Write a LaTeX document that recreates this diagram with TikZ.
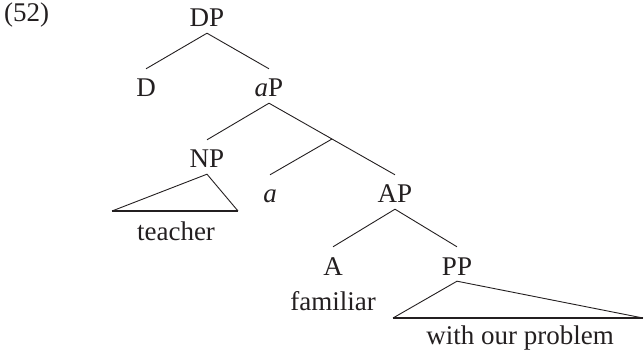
\documentclass[tikz,border=0pt]{standalone}
\usepackage{fontspec}
\setmainfont{Liberation Serif}
\definecolor{ink}{HTML}{231F20}
\begin{document}
\begin{tikzpicture}[x=1pt,y=-1pt,
  txt/.style={font=\fontsize{27}{31}\selectfont, text=ink},
  lab/.style={txt, inner sep=0pt, text height=28pt, text depth=6pt, anchor=base},
  term/.style={txt, inner sep=0pt, anchor=base},
  branch/.style={draw=ink, line width=0.9pt},
  trisides/.style={draw=ink, line width=0.9pt, line join=miter},
  tribase/.style={draw=ink, line width=1.8pt}]
\useasboundingbox (0,0) rectangle (644,355);
% labels
\node[term, anchor=base west] (ex) at (4,22) {(52)};
\node[lab] (DP) at (207,27) {DP};
\node[lab] (D) at (146,97) {D};
\node[lab] (aP) at (269,97) {\textit{a}P};
\coordinate (abar) at (332,139);
\node[lab] (NP) at (207,168) {NP};
\node[lab] (a) at (270,203) {\textit{a}};
\node[lab] (AP) at (395,203) {AP};
\node[lab] (A) at (333,275) {A};
\node[lab] (PP) at (457,275) {PP};
\node[term] (familiar) at (333,310) {familiar};
\node[term] (teacher) at (176,240) {teacher};
\node[term] (wop) at (520,344) {with our problem};
% triangle corners
\coordinate (npL) at (112,211);
\coordinate (npR) at (238,211);
\coordinate (ppL) at (393,318);
\coordinate (ppR) at (643,318);
% branches
\draw[branch] (DP.south) -- (D.north);
\draw[branch] (DP.south) -- (aP.north);
\draw[branch] (aP.south) -- (NP.north);
\draw[branch] (aP.south) -- (abar) -- (AP.north);
\draw[branch] (abar) -- (a.north);
\draw[branch] (AP.south) -- (A.north);
\draw[branch] (AP.south) -- (PP.north);
% triangles
\draw[trisides] (npL) -- (NP.south) -- (npR);
\draw[tribase] (npL) -- (npR);
\draw[trisides] (ppL) -- (PP.south) -- (ppR);
\draw[tribase] (ppL) -- (ppR);
\end{tikzpicture}
\end{document}
